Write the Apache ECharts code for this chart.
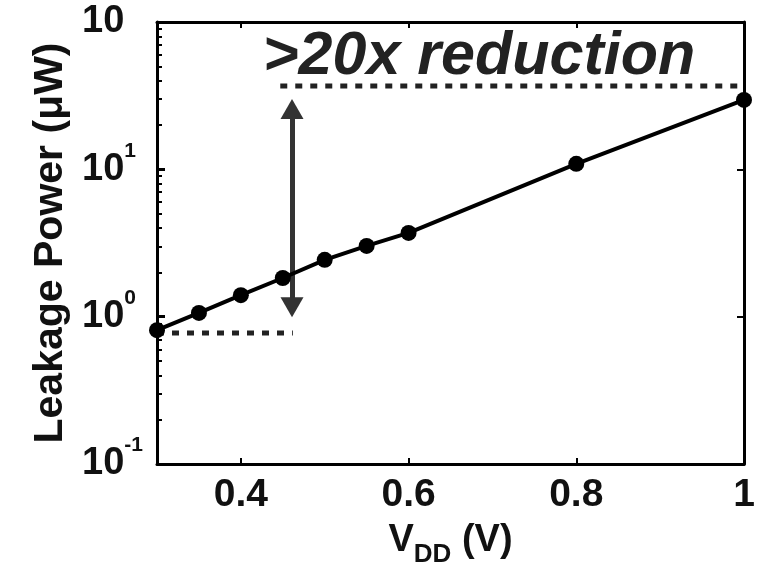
<!DOCTYPE html>
<html>
<head>
<meta charset="utf-8">
<style>
  html, body { margin: 0; padding: 0; background: #fff; }
  #chart { width: 769px; height: 573px; }
</style>
<script src="https://cdn.jsdelivr.net/npm/echarts@6/dist/echarts.min.js"></script>
</head>
<body>
<div id="chart"></div>
<script>
// supply voltage (V) and measured leakage (uW)
const vdd = [0.3, 0.35, 0.4, 0.45, 0.5, 0.55, 0.6, 0.8, 1.0];
const leakage = [0.81, 1.06, 1.40, 1.83, 2.43, 3.02, 3.70, 10.9, 29.6];
const xTicks = [0.4, 0.6, 0.8, 1];
// y decades: 0.1 .. 100
const yMin = 0.1;
const yMax = 100;
// reference (dotted) levels and the arrow between them
const highRefX = [0.447, 0.993];
const highRefY = [36.8, 36.8];
const lowRefX = [0.3, 0.462];
const lowRefY = [0.774, 0.774];
const arrowX = 0.461;
const arrowY = [1.16, 25.7];
const note = '>20x reduction';

const FONT = 'Liberation Sans';
const chart = echarts.init(document.getElementById('chart'));

const frameLine = { show: true, lineStyle: { color: '#000', width: 3 } };
const tickStyle = { color: '#000', width: 2 };

const option = {
  animation: false,
  backgroundColor: '#fff',
  grid: { left: 157, right: 25, top: 22, bottom: 109, outerBoundsMode: 'none' },
  textStyle: { fontFamily: FONT },
  xAxis: [
    {
      type: 'value', min: 0.3, max: 1, interval: 0.1,
      axisLine: frameLine,
      splitLine: { show: false },
      axisTick: { inside: true, length: 6, customValues: xTicks, lineStyle: tickStyle },
      axisLabel: {
        customValues: xTicks, margin: 12,
        color: '#111', fontFamily: FONT, fontWeight: 'bold', fontSize: 39,
        formatter: v => String(+v.toFixed(1))
      },
      name: '{v|V}{d|DD}{v| (V)}',
      nameLocation: 'middle', nameGap: 50,
      nameTextStyle: {
        rich: {
          v: { fontFamily: FONT, fontWeight: 'bold', fontSize: 38, color: '#111', lineHeight: 54 },
          d: { fontFamily: FONT, fontWeight: 'bold', fontSize: 26, color: '#111', verticalAlign: 'bottom', lineHeight: 26 }
        }
      }
    },
    {
      type: 'value', position: 'top', min: 0.3, max: 1, interval: 0.1,
      axisLine: frameLine, splitLine: { show: false },
      axisTick: { inside: true, length: 6, customValues: xTicks, lineStyle: tickStyle },
      axisLabel: { show: false }
    }
  ],
  yAxis: [
    {
      type: 'log', logBase: 10, min: yMin, max: yMax, position: 'left',
      axisLine: frameLine,
      splitLine: { show: false },
      axisTick: { show: true, inside: true, length: 8, lineStyle: { color: '#000', width: 3 } },
      minorTick: { show: true, splitNumber: 9, length: 5, lineStyle: { color: '#000', width: 2 } },
      axisLabel: {
        align: 'left', margin: 75,
        formatter: v => {
          const e = Math.round(Math.log10(v));
          return e === 2 ? '{b|10}' : '{b|10}{s|' + e + '}';
        },
        rich: {
          b: { fontFamily: FONT, fontWeight: 'bold', fontSize: 38, color: '#111', lineHeight: 58 },
          s: { fontFamily: FONT, fontWeight: 'bold', fontSize: 21, color: '#111', verticalAlign: 'top', lineHeight: 24 }
        }
      },
      name: 'Leakage Power (\u03bcW)',
      nameLocation: 'middle', nameGap: 86, nameRotate: 90,
      nameTextStyle: { fontFamily: FONT, fontWeight: 'bold', fontSize: 41, color: '#111' }
    },
    {
      type: 'log', logBase: 10, min: yMin, max: yMax, position: 'right',
      axisLine: frameLine, splitLine: { show: false },
      axisTick: { inside: true, length: 7, lineStyle: tickStyle },
      axisLabel: { show: false }
    }
  ],
  graphic: [
    {
      type: 'text', left: 263, top: 27, z: 10,
      style: {
        text: note, fill: '#222',
        font: 'italic bold 61px "' + FONT + '"'
      }
    }
  ],
  series: [
    {
      name: 'high ref', type: 'line', symbol: 'none', silent: true,
      data: highRefX.map((x, i) => [x, highRefY[i]]),
      lineStyle: { color: '#222', width: 5, type: [7, 8] }
    },
    {
      name: 'low ref', type: 'line', symbol: 'none', silent: true,
      data: lowRefX.map((x, i) => [x, lowRefY[i]]),
      lineStyle: { color: '#222', width: 5, type: [7, 8] }
    },
    {
      name: 'arrow', type: 'line', symbol: 'none', silent: true, data: [],
      markLine: {
        silent: true, symbol: ['triangle', 'triangle'], symbolSize: [23, 20],
        label: { show: false },
        itemStyle: { color: '#333' },
        lineStyle: { color: '#333', width: 5, type: 'solid' },
        data: [[{ coord: [arrowX, arrowY[0]] }, { coord: [arrowX, arrowY[1]] }]]
      }
    },
    {
      name: 'leakage', type: 'line', clip: false, z: 5,
      data: vdd.map((x, i) => [x, leakage[i]]),
      symbol: 'circle', symbolSize: 16,
      itemStyle: { color: '#000' },
      lineStyle: { color: '#000', width: 4 }
    }
  ]
};

chart.setOption(option);
</script>
</body>
</html>
